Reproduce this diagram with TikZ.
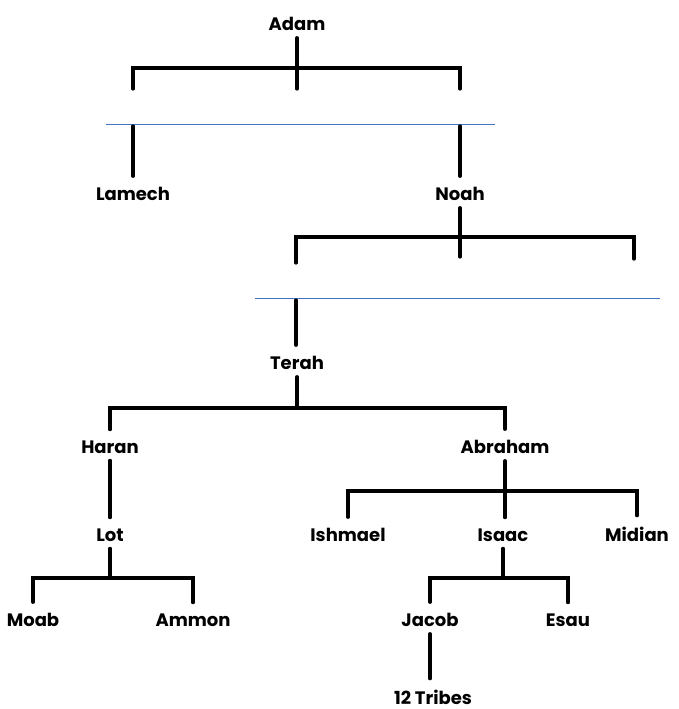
\documentclass[tikz,border=0pt]{standalone}
\usepackage{fontspec}
\setmainfont{Poppins}
\begin{document}
\begin{tikzpicture}[x=1pt,y=-1pt]
\def\lw{3.2pt}

\tikzset{
  person/.style={font=\bfseries\fontsize{18}{20}\selectfont, inner sep=0pt, outer sep=0pt},
  link/.style={line width=\lw, line cap=round},
  cut/.style={draw={rgb,255:red,68;green,114;blue,196}, line width=1pt}
}

% parent down to bar, bar across, down to the two outer children
\def\fork#1#2#3#4{
  \draw[link] ([yshift=-7pt]#1.south) -- (#1 |- 0,#4);
  \draw[link] ([yshift=11pt]#2.north) -- (#2 |- 0,#4) -- (#3 |- 0,#4) -- ([yshift=11pt]#3.north);
}
\def\drop#1#2{
  \draw[link] ([yshift=-7pt]#1.south) -- ([yshift=11pt]#1.south |- #2.north);
}

\useasboundingbox (0,0) rectangle (678,709);

% Names
\node[person] (adam) at(297,24){Adam};
\node[person] (lamech) at(133,194){Lamech};
\node[person] (noah) at(460,194){Noah};
\node[person] (terah) at(297,363){Terah};
\node[person] (haran) at(110,447){Haran};
\node[person] (abraham) at(505,447){Abraham};
\node[person] (lot) at(110,535){Lot};
\node[person] (ishmael) at(348,535){Ishmael};
\node[person] (isaac) at(503,535){Isaac};
\node[person] (midian) at(637,534){Midian};
\node[person] (moab) at(33,620){Moab};
\node[person] (ammon) at(193,620){Ammon};
\node[person] (jacob) at(430,620){Jacob};
\node[person] (esau) at(568,620){Esau};
\node[person] (tribes) at(433,697){12 Tribes};

% Adam, cut off below
\coordinate (a1) at (133,89);
\coordinate (a2) at (460,89);
\draw[link] ([yshift=-7pt]adam.south) -- (adam |- 0,89);
\draw[link] (a1) -- (a1 |- 0,68) -- (a2 |- 0,68) -- (a2);
\draw[cut] (106,124) -- (495,124);
\draw[link] (a1 |- 0,126) -- ([yshift=11pt]a1 |- lamech.north);
\draw[link] (a2 |- 0,126) -- ([yshift=11pt]a2 |- noah.north);

% Noah, cut off below
\coordinate (n1) at (296,263);
\coordinate (n2) at (634,259);
\draw[link] ([yshift=-7pt]noah.south) -- (noah |- 0,257);
\draw[link] (n1) -- (n1 |- 0,237) -- (n2 |- 0,237) -- (n2);
\draw[cut] (255,298) -- (660,298);
\draw[link] (n1 |- 0,300) -- ([yshift=11pt]n1 |- terah.north);

% Terah and below
\fork{terah}{haran}{abraham}{408}
\drop{haran}{lot}
\fork{lot}{moab}{ammon}{578}
\fork{abraham}{ishmael}{midian}{491}
\draw[link] (abraham |- 0,491) -- ([yshift=11pt]abraham |- isaac.north);
\fork{isaac}{jacob}{esau}{578}
\drop{jacob}{tribes}

\end{tikzpicture}
\end{document}
